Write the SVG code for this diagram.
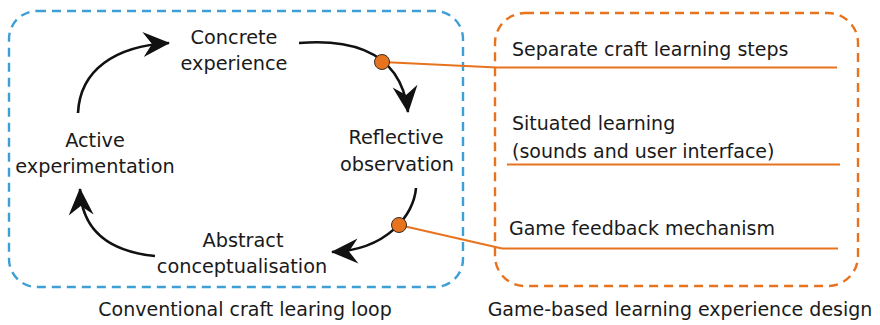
<svg xmlns="http://www.w3.org/2000/svg" width="880" height="325" viewBox="0 0 880 325">
<style>
text{font-family:"DejaVu Sans","Noto Sans",sans-serif;fill:#1a1a1a;}
.lbl{font-size:19.3px;text-anchor:middle;}
.olbl{font-size:19px;}
.cap{font-size:19px;text-anchor:middle;}
.arc{fill:none;stroke:#111;stroke-width:2.6;marker-end:url(#ah);}
.conn{fill:none;stroke:#e8731f;stroke-width:2.2;}
.dot{fill:#e8731f;stroke:#3a2a20;stroke-width:1;}
</style>
<defs>
<marker id="ah" viewBox="-28 -14 30 28" markerWidth="30" markerHeight="28" refX="0" refY="0" orient="auto" markerUnits="userSpaceOnUse">
<path d="M1,0 L-26,-12.5 L-17,0 L-26,12.5 Z" fill="#111"/>
</marker>
</defs>
<g id="loop-frame">
<rect x="9" y="11" width="454" height="276" rx="28" fill="none" stroke="#3d9fd6" stroke-width="2.4" stroke-dasharray="9,6"/>
<text class="cap" x="245" y="316">Conventional craft learing loop</text>
</g>
<g id="design-frame">
<rect x="495" y="13" width="363" height="273" rx="30" fill="none" stroke="#e8731f" stroke-width="2.4" stroke-dasharray="9,6"/>
<text class="cap" x="680" y="316">Game-based learning experience design</text>
</g>
<g id="concrete"><text class="lbl" x="234" y="44">Concrete</text><text class="lbl" x="234" y="70">experience</text></g>
<g id="reflective"><text class="lbl" x="396" y="144">Reflective</text><text class="lbl" x="397" y="171">observation</text></g>
<g id="abstract"><text class="lbl" x="243" y="247">Abstract</text><text class="lbl" x="242" y="273">conceptualisation</text></g>
<g id="active"><text class="lbl" x="95" y="147">Active</text><text class="lbl" x="95" y="173">experimentation</text></g>
<g id="separate"><text class="olbl" x="512" y="56">Separate craft learning steps</text><line class="conn" x1="497" y1="67.5" x2="837" y2="67.5"/></g>
<g id="situated"><text class="olbl" x="512" y="130">Situated learning</text><text class="olbl" x="512" y="158">(sounds and user interface)</text><line class="conn" x1="507" y1="164.5" x2="840" y2="164.5"/></g>
<g id="feedback"><text class="olbl" x="509" y="235">Game feedback mechanism</text><line class="conn" x1="502" y1="248.5" x2="838" y2="248.5"/></g>
<g id="connectors">
<path class="arc" d="M78,113 C80,70 115,46 169,43"/>
<path class="arc" d="M299,43 C335,40 400,42 408,112"/>
<path class="arc" d="M416,188 C414,215 387,250 332,252"/>
<path class="arc" d="M155,256 C115,252 82,235 80,189"/>
<path class="conn" d="M382,62 L497,67.5"/>
<path class="conn" d="M399,225 L502,248.5"/>
<circle class="dot" cx="382" cy="62" r="7.5"/>
<circle class="dot" cx="399" cy="225" r="7.5"/>
</g>
</svg>
